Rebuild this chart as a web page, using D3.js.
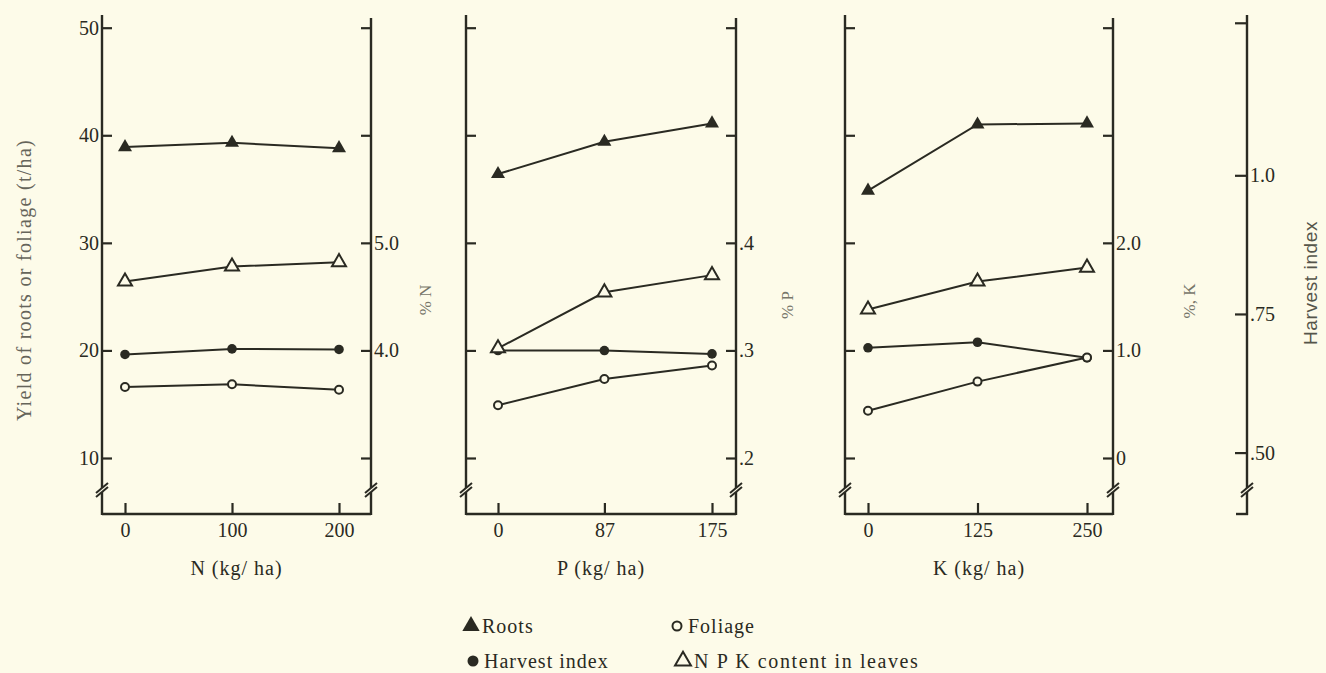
<!DOCTYPE html>
<html lang="en">
<head>
	<meta charset="UTF-8">
	<title>Cassava response to N, P and K</title>
	<script src="https://cdn.jsdelivr.net/npm/d3@7"></script>
	<style>
	body {
		margin: 0;
		background-color: #fdfbe9;
	}
	svg {
		display: block;
	}
	.serif {
		font-family: "Liberation Serif", "Times New Roman", serif;
	}
	</style>
</head>
<body>
<script>
	// fertiliser rates (kg/ha) on the three x axes
	var nRates = [0, 100, 200];
	var pRates = [0, 87, 175];
	var kRates = [0, 125, 250];

	// yield of roots and foliage (t/ha)
	var rootsN = [38.9, 39.3, 38.8];
	var rootsP = [36.4, 39.4, 41.1];
	var rootsK = [34.85, 41.0, 41.1];
	var foliageN = [16.6, 16.85, 16.35];
	var foliageP = [14.9, 17.35, 18.6];
	var foliageK = [14.4, 17.1, 19.35];

	// harvest index
	var harvestN = [0.677, 0.687, 0.686];
	var harvestP = [0.684, 0.684, 0.678];
	var harvestK = [0.689, 0.699, 0.671];

	// nutrient content in leaves (%N, %P, %K)
	var contentN = [4.64, 4.78, 4.82];
	var contentP = [0.302, 0.354, 0.370];
	var contentK = [1.38, 1.64, 1.77];

	// tick values and labels
	var yieldTicks = [10, 20, 30, 40, 50];
	var nTicks = [3, 4, 5, 6, 7];
	var nTickLabels = ['', '4.0', '5.0', '', ''];
	var pTicks = [0.2, 0.3, 0.4, 0.5, 0.6];
	var pTickLabels = ['.2', '.3', '.4', '', ''];
	var kTicks = [0, 1, 2, 3, 4];
	var kTickLabels = ['0', '1.0', '2.0', '', ''];
	var harvestTicks = [0.5, 0.75, 1.0, 1.275];
	var harvestTickLabels = ['.50', '.75', '1.0', ''];

	var bg = '#fdfbe9';
	var ink = '#2a2a22';
	var width = 1326, height = 673;
	var baseY = 514, breakY = 488;

	var svg = d3.select('body').append('svg')
		.attr('width', width)
		.attr('height', height);

	svg.append('rect')
		.attr('width', width)
		.attr('height', height)
		.attr('fill', bg);

	var yYield = d3.scaleLinear().domain([10, 50]).range([458, 27.7]);
	var yHarvest = d3.scaleLinear().domain([0.5, 1.0]).range([452.6, 175.3]);

	var panels = [
		{rates: nRates, roots: rootsN, foliage: foliageN, harvest: harvestN, content: contentN,
		 ticks: nTicks, labels: nTickLabels, xTitle: 'N (kg/ ha)', yTitle: '% N',
		 left: 102, right: 371, first: 125, last: 339, yLabels: true, yTitleX: 425, yTitleY: 300},
		{rates: pRates, roots: rootsP, foliage: foliageP, harvest: harvestP, content: contentP,
		 ticks: pTicks, labels: pTickLabels, xTitle: 'P (kg/ ha)', yTitle: '% P',
		 left: 466, right: 736, first: 498, last: 712, yLabels: false, yTitleX: 787, yTitleY: 305},
		{rates: kRates, roots: rootsK, foliage: foliageK, harvest: harvestK, content: contentK,
		 ticks: kTicks, labels: kTickLabels, xTitle: 'K (kg/ ha)', yTitle: '%, K',
		 left: 845, right: 1113, first: 868, last: 1087, yLabels: false, yTitleX: 1189, yTitleY: 301}
	];

	function styleAxis(g) {
		g.select('.domain').remove();
		g.attr('font-family', '"Liberation Serif", "Times New Roman", serif')
			.attr('font-size', 20);
		g.selectAll('.tick line').attr('stroke', ink).attr('stroke-width', 2.2);
		g.selectAll('.tick text').attr('fill', ink);
	}

	function vLine(x, y1, y2) {
		svg.append('line')
			.attr('x1', x).attr('x2', x)
			.attr('y1', y1).attr('y2', y2)
			.attr('stroke', ink)
			.attr('stroke-width', 2.4);
	}

	function axisBreak(x, y) {
		svg.append('polygon')
			.attr('points', [[x - 6, y + 5], [x + 6, y - 5], [x + 6, y - 1], [x - 6, y + 9]].join(' '))
			.attr('fill', bg);
		[0, 4].forEach(function (d) {
			svg.append('line')
				.attr('x1', x - 6).attr('y1', y + 5 + d)
				.attr('x2', x + 6).attr('y2', y - 5 + d)
				.attr('stroke', ink)
				.attr('stroke-width', 2);
		});
	}

	var triangle = d3.symbol().type(d3.symbolTriangle).size(85);

	panels.forEach(function (p) {
		var x = d3.scaleLinear().domain([0, d3.max(p.rates)]).range([p.first, p.last]);
		var yRight = d3.scaleLinear().domain(d3.extent(p.ticks)).range(yYield.range());

		// frame
		vLine(p.left, 15, baseY + 1);
		vLine(p.right, 18, baseY + 1);
		svg.append('line')
			.attr('x1', p.left).attr('x2', p.right)
			.attr('y1', baseY).attr('y2', baseY)
			.attr('stroke', ink)
			.attr('stroke-width', 2.4);

		svg.append('g')
			.attr('transform', 'translate(' + p.left + ',0)')
			.call(d3.axisLeft(yYield)
				.tickValues(yieldTicks)
				.tickSizeInner(-10)
				.tickSizeOuter(0)
				.tickPadding(3)
				.tickFormat(function (d) { return p.yLabels ? d : ''; }))
			.call(styleAxis);

		svg.append('g')
			.attr('transform', 'translate(' + p.right + ',0)')
			.call(d3.axisRight(yRight)
				.tickValues(p.ticks)
				.tickSizeInner(-10)
				.tickSizeOuter(0)
				.tickPadding(3)
				.tickFormat(function (d, i) { return p.labels[i]; }))
			.call(styleAxis);

		svg.append('g')
			.attr('transform', 'translate(0,' + baseY + ')')
			.call(d3.axisBottom(x)
				.tickValues(p.rates)
				.tickSizeInner(-11)
				.tickSizeOuter(0)
				.tickPadding(9))
			.call(styleAxis);

		axisBreak(p.left, breakY);
		axisBreak(p.right, breakY);

		svg.append('text')
			.attr('class', 'serif')
			.attr('x', (p.left + p.right) / 2)
			.attr('y', 575)
			.attr('text-anchor', 'middle')
			.attr('font-size', 20)
			.attr('letter-spacing', 1)
			.attr('fill', ink)
			.text(p.xTitle);

		svg.append('text')
			.attr('class', 'serif')
			.attr('transform', 'translate(' + p.yTitleX + ',' + p.yTitleY + ') rotate(-90)')
			.attr('text-anchor', 'middle')
			.attr('dy', '0.35em')
			.attr('font-size', 17)
			.attr('fill', '#77766a')
			.text(p.yTitle);

		// series lines
		var series = [
			{vals: p.roots, y: yYield},
			{vals: p.content, y: yRight},
			{vals: p.harvest, y: yHarvest},
			{vals: p.foliage, y: yYield}
		];
		series.forEach(function (s) {
			var line = d3.line()
				.x(function (d, i) { return x(p.rates[i]); })
				.y(function (d) { return s.y(d); });
			svg.append('path')
				.datum(s.vals)
				.attr('d', line)
				.attr('fill', 'none')
				.attr('stroke', ink)
				.attr('stroke-width', 2);
		});

		// markers
		svg.selectAll(null)
			.data(p.harvest)
			.enter()
			.append('circle')
			.attr('cx', function (d, i) { return x(p.rates[i]); })
			.attr('cy', function (d) { return yHarvest(d); })
			.attr('r', 4.8)
			.attr('fill', ink);

		svg.selectAll(null)
			.data(p.foliage)
			.enter()
			.append('circle')
			.attr('cx', function (d, i) { return x(p.rates[i]); })
			.attr('cy', function (d) { return yYield(d); })
			.attr('r', 4)
			.attr('fill', bg)
			.attr('stroke', ink)
			.attr('stroke-width', 2);

		svg.selectAll(null)
			.data(p.content)
			.enter()
			.append('path')
			.attr('d', triangle)
			.attr('transform', function (d, i) { return 'translate(' + x(p.rates[i]) + ',' + yRight(d) + ')'; })
			.attr('fill', bg)
			.attr('stroke', ink)
			.attr('stroke-width', 2);

		svg.selectAll(null)
			.data(p.roots)
			.enter()
			.append('path')
			.attr('d', triangle)
			.attr('transform', function (d, i) { return 'translate(' + x(p.rates[i]) + ',' + yYield(d) + ')'; })
			.attr('fill', ink);
	});

	// harvest index axis
	var hx = 1247;
	vLine(hx, 15, baseY + 1);
	svg.append('line')
		.attr('x1', hx - 11).attr('x2', hx + 1)
		.attr('y1', baseY).attr('y2', baseY)
		.attr('stroke', ink)
		.attr('stroke-width', 2.4);
	svg.append('g')
		.attr('transform', 'translate(' + hx + ',0)')
		.call(d3.axisRight(yHarvest)
			.tickValues(harvestTicks)
			.tickSizeInner(-12)
			.tickSizeOuter(0)
			.tickPadding(3)
			.tickFormat(function (d, i) { return harvestTickLabels[i]; }))
		.call(styleAxis);
	axisBreak(hx, breakY);

	svg.append('text')
		.attr('transform', 'translate(1310,283) rotate(-90)')
		.attr('text-anchor', 'middle')
		.attr('dy', '0.35em')
		.attr('font-family', '"Liberation Sans", Arial, sans-serif')
		.attr('font-size', 19)
		.attr('letter-spacing', 0.6)
		.attr('fill', '#55554a')
		.text('Harvest index');

	svg.append('text')
		.attr('class', 'serif')
		.attr('transform', 'translate(24,280) rotate(-90)')
		.attr('text-anchor', 'middle')
		.attr('dy', '0.35em')
		.attr('font-size', 20)
		.attr('letter-spacing', 1.3)
		.attr('fill', '#66655a')
		.text('Yield of roots or foliage (t/ha)');

	// legend
	var legendItems = ['Roots', 'Foliage', 'Harvest index', 'N P K content in leaves'];
	var legendPos = [[471, 626], [677, 626], [473, 661], [683, 661]];
	var legendMarks = [
		function (g) { g.append('path').attr('d', d3.symbol().type(d3.symbolTriangle).size(130)).attr('fill', ink); },
		function (g) { g.append('circle').attr('r', 4.5).attr('fill', bg).attr('stroke', ink).attr('stroke-width', 2); },
		function (g) { g.append('circle').attr('r', 5.5).attr('fill', ink); },
		function (g) { g.append('path').attr('d', d3.symbol().type(d3.symbolTriangle).size(110)).attr('fill', bg).attr('stroke', ink).attr('stroke-width', 2); }
	];

	var legend = svg.selectAll('.legend')
		.data(legendItems)
		.enter()
		.append('g')
		.attr('class', 'legend')
		.attr('transform', function (d, i) { return 'translate(' + legendPos[i][0] + ',' + legendPos[i][1] + ')'; });

	legend.each(function (d, i) { legendMarks[i](d3.select(this)); });

	legend.append('text')
		.attr('class', 'serif')
		.attr('x', 11)
		.attr('dy', '0.35em')
		.attr('font-size', 20)
		.attr('letter-spacing', function (d, i) { return i === 3 ? 1.6 : 1; })
		.attr('fill', ink)
		.text(function (d) { return d; });
</script>
</body>
</html>
